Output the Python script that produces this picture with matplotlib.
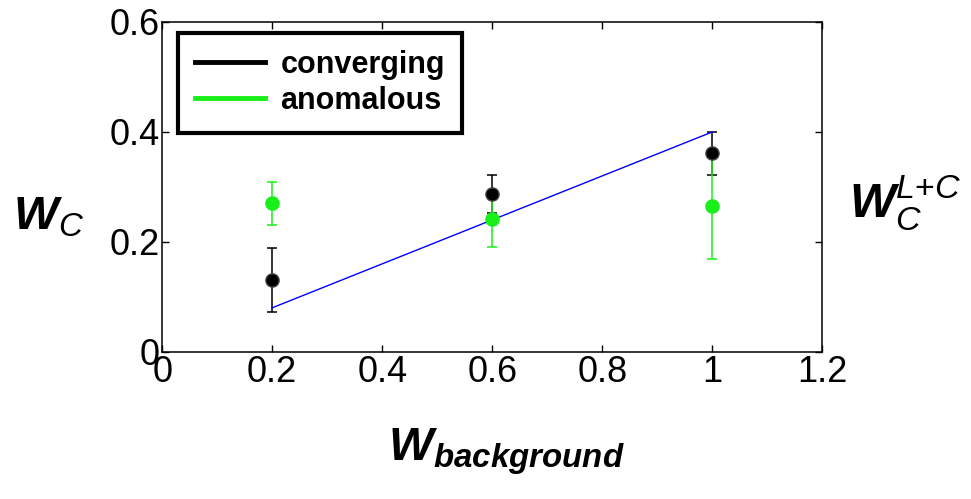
import matplotlib
matplotlib.use("Agg")
import matplotlib.pyplot as plt
from matplotlib.lines import Line2D

# data
w_bg = [0.2, 0.6, 1.0]
conv_y = [0.131, 0.287, 0.361]
conv_err = [0.058, 0.034, 0.039]
anom_y = [0.270, 0.241, 0.265]
anom_err = [0.039, 0.051, 0.096]
fit_x = [0.2, 1.0]
fit_y = [0.08, 0.40]

GREEN = "#19f019"

plt.rcParams['font.family'] = ['Liberation Sans', 'DejaVu Sans']
plt.rcParams['mathtext.fontset'] = 'custom'
plt.rcParams['mathtext.rm'] = 'Liberation Sans'
plt.rcParams['mathtext.it'] = 'Liberation Sans:italic'
plt.rcParams['mathtext.bf'] = 'Liberation Sans:bold'
plt.rcParams['mathtext.bfit'] = 'Liberation Sans:bold:italic'


def main():
    fig = plt.figure(figsize=(9.71, 4.99), dpi=100)
    ax = fig.add_axes([0.167, 0.295, 0.680, 0.661])

    ax.errorbar(w_bg, conv_y, yerr=conv_err, fmt='o', color='black',
                ms=9.5, mec='#444444', elinewidth=1.1, capsize=3.5, capthick=1.1)
    ax.errorbar(w_bg, anom_y, yerr=anom_err, fmt='o', color=GREEN,
                ms=9.5, mec=GREEN, elinewidth=1.1, capsize=3.5, capthick=1.1)
    ax.plot(fit_x, fit_y, color='blue', lw=1.0)

    ax.set_xlim(0, 1.2)
    ax.set_ylim(0, 0.6)
    ax.set_xticks([0, 0.2, 0.4, 0.6, 0.8, 1.0, 1.2])
    ax.set_xticklabels(['0', '0.2', '0.4', '0.6', '0.8', '1', '1.2'])
    ax.set_yticks([0, 0.2, 0.4, 0.6])
    ax.set_yticklabels(['0', '0.2', '0.4', '0.6'])
    ax.tick_params(direction='in', top=True, right=True, length=5, width=1,
                   labelsize=26, pad=2)
    for s in ax.spines.values():
        s.set_linewidth(1.1)

    handles = [Line2D([], [], color='black', lw=3.5),
               Line2D([], [], color=GREEN, lw=3.5)]
    leg = ax.legend(handles, ['converging', 'anomalous'], loc='upper left',
                    bbox_to_anchor=(0.024, 0.967), borderaxespad=0,
                    fancybox=False, edgecolor='black', framealpha=1,
                    handlelength=2.3, handletextpad=0.5, borderpad=0.55,
                    labelspacing=0.2, prop={'weight': 'bold', 'size': 22})
    leg.get_frame().set_linewidth(3)

    fig.text(0.050, 0.565, r'$\mathbfit{W}_{\mathit{C}}$', fontsize=34,
             ha='center', va='center')
    fig.text(0.932, 0.595, r'$\mathbfit{W}_{\mathit{C}}^{\mathit{L}\mathrm{+}\mathit{C}}$',
             fontsize=35, ha='center', va='center')
    fig.text(0.522, 0.095, r'$\mathbfit{W}_{\mathbfit{background}}$', fontsize=34,
             ha='center', va='center')

    fig.savefig('out.png', dpi=100)


if __name__ == '__main__': main()
